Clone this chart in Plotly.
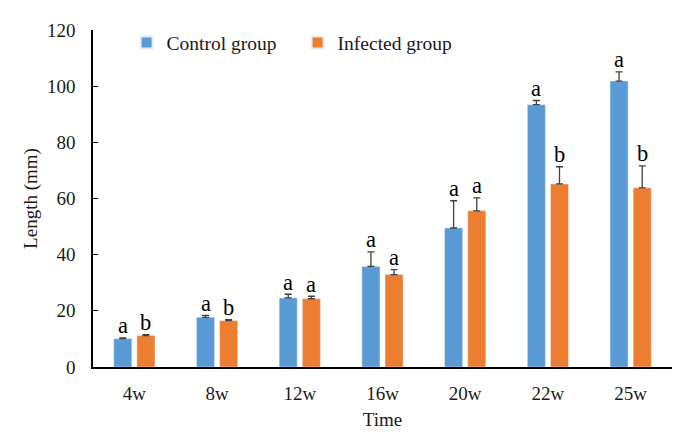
import plotly.graph_objects as go

categories = ["4w", "8w", "12w", "16w", "20w", "22w", "25w"]
control = [10.1, 17.7, 24.6, 35.8, 49.5, 93.4, 101.8]
control_err = [0.3, 0.7, 1.3, 5.2, 9.7, 1.5, 3.3]
infected = [11.2, 16.5, 24.3, 32.9, 55.6, 65.2, 63.8]
infected_err = [0.3, 0.4, 0.9, 1.8, 4.6, 6.1, 7.8]
control_letters = ["a", "a", "a", "a", "a", "a", "a"]
infected_letters = ["b", "b", "a", "a", "a", "b", "b"]
y_ticks = [0, 20, 40, 60, 80, 100, 120]

BLUE = "#5B9BD5"
ORANGE = "#ED7D31"
FONT = "Liberation Serif, Times New Roman, DejaVu Serif, serif"
TXT = "#1a1a1a"

fig = go.Figure()
fig.add_trace(go.Bar(
    name="Control group", x=categories, y=control, marker_color=BLUE,
    error_y=dict(type="data", array=control_err, symmetric=False, arrayminus=[0]*len(control_err),
                 color="#404040", thickness=1.3, width=3.5),
))
fig.add_trace(go.Bar(
    name="Infected group", x=categories, y=infected, marker_color=ORANGE,
    error_y=dict(type="data", array=infected_err, symmetric=False, arrayminus=[0]*len(infected_err),
                 color="#404040", thickness=1.3, width=3.5),
))

annotations = []
for cat, v, e, t in zip(categories, control, control_err, control_letters):
    annotations.append(dict(x=cat, y=v + e, text=t, xref="x", yref="y", showarrow=False,
                            xshift=-11.5, yanchor="bottom", yshift=-2.5,
                            font=dict(family=FONT, size=22.5, color="black")))
for cat, v, e, t in zip(categories, infected, infected_err, infected_letters):
    annotations.append(dict(x=cat, y=v + e, text=t, xref="x", yref="y", showarrow=False,
                            xshift=11.5, yanchor="bottom", yshift=-2.5,
                            font=dict(family=FONT, size=22.5, color="black")))

fig.update_layout(
    width=693, height=445,
    margin=dict(l=85, r=29, t=15, b=86),
    plot_bgcolor="white", paper_bgcolor="white",
    barmode="group", bargap=0.44, bargroupgap=0.22,
    font=dict(family=FONT, size=19, color=TXT),
    showlegend=True,
    legend=dict(orientation="h", x=0.058, y=1.02, xanchor="left", yanchor="top",
                font=dict(family=FONT, size=19.5, color=TXT),
                entrywidth=126, entrywidthmode="pixels", bgcolor="rgba(0,0,0,0)",
                itemsizing="constant"),
    annotations=annotations,
)
fig.update_xaxes(
    showline=True, linecolor="black", linewidth=1.5, ticks="",
    ticklabelstandoff=8,
    title=dict(text="Time", font=dict(family=FONT, size=19, color=TXT), standoff=10),
    tickfont=dict(family=FONT, size=19, color=TXT),
)
fig.update_yaxes(
    range=[0, 120], tickvals=y_ticks, showgrid=False, zeroline=False,
    showline=True, linecolor="black", linewidth=1.5,
    ticks="inside", ticklen=5, tickcolor="black",
    ticklabelstandoff=12,
    title=dict(text="Length (mm)", font=dict(family=FONT, size=19, color=TXT), standoff=4),
    tickfont=dict(family=FONT, size=19, color=TXT),
)

fig.write_html("out.html")
